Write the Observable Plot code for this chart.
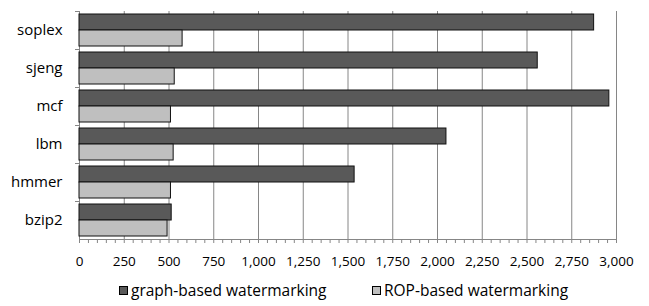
<!DOCTYPE html>
<html>
<head>
<meta charset="utf-8">
<script src="https://cdn.jsdelivr.net/npm/d3@7"></script>
<script src="https://cdn.jsdelivr.net/npm/@observablehq/plot@0.6"></script>
<style>
  html, body { margin: 0; padding: 0; background: #fff; }
  #chart { width: 649px; font-family: "Open Sans", sans-serif; }
  .legend { position: relative; height: 34px; width: 649px; font-family: "Open Sans", sans-serif; font-size: 15.5px; color: #000; }
  .legend .item { position: absolute; top: 8px; display: flex; align-items: center; white-space: nowrap; line-height: 20px; }
  .legend .sw { width: 7px; height: 7px; border: 1px solid #000; margin-right: 3px; }
</style>
</head>
<body>
<div id="chart"></div>
<script>
const categories = ["soplex", "sjeng", "mcf", "lbm", "hmmer", "bzip2"];
const seriesNames = ["graph-based watermarking", "ROP-based watermarking"];
const graphValues = [2875, 2560, 2960, 2050, 1537, 515];
const ropValues = [576, 532, 511, 526, 511, 492];
const xTicks = [0, 250, 500, 750, 1000, 1250, 1500, 1750, 2000, 2250, 2500, 2750, 3000];
const minorTicks = [0, 50, 100, 150, 200, 250, 300, 350, 400, 450, 500, 550, 600, 650, 700, 750, 800, 850, 900, 950,
  1000, 1050, 1100, 1150, 1200, 1250, 1300, 1350, 1400, 1450, 1500, 1550, 1600, 1650, 1700, 1750, 1800, 1850, 1900, 1950,
  2000, 2050, 2100, 2150, 2200, 2250, 2300, 2350, 2400, 2450, 2500, 2550, 2600, 2650, 2700, 2750, 2800, 2850, 2900, 2950, 3000];
const seriesColors = ["#595959", "#bfbfbf"];

const data = categories.flatMap((c, i) => [
  {cat: c, series: seriesNames[0], value: graphValues[i]},
  {cat: c, series: seriesNames[1], value: ropValues[i]}
]);

const W = 649, H = 272, ML = 79, MR = 33, MT = 9, MB = 32;
const axisColor = "#868686";

const chart = Plot.plot({
  width: W, height: H,
  marginLeft: ML, marginRight: MR, marginTop: MT, marginBottom: MB,
  style: {fontFamily: "Open Sans, sans-serif", color: "#000", background: "#fff"},
  x: {domain: [0, 3000]},
  fy: {domain: categories, padding: 0},
  y: {domain: seriesNames, paddingInner: 0, paddingOuter: 0.15, axis: null},
  color: {domain: seriesNames, range: seriesColors},
  marks: [
    Plot.gridX(xTicks, {stroke: axisColor, strokeOpacity: 1, strokeWidth: 1}),
    Plot.barX(data, {x: "value", y: "series", fy: "cat", fill: "series", stroke: "#111", strokeWidth: 1}),
    Plot.frame({anchor: "top", insetLeft: -4, insetRight: W - ML - MR, stroke: axisColor}),
    Plot.frame({anchor: "bottom", facetAnchor: "bottom", stroke: axisColor}),
    Plot.axisFy({anchor: "left", tickSize: 0, tickPadding: 17, fontSize: 15, label: null}),
    Plot.axisX(minorTicks, {tickSize: 4, tickFormat: () => "", stroke: axisColor, label: null}),
    Plot.axisX(xTicks, {tickSize: 0, tickPadding: 17, tickFormat: d3.format(","), fontSize: 13.5, label: null})
  ]
});
document.getElementById("chart").appendChild(chart);

const legend = document.createElement("div");
legend.className = "legend";
const lefts = [119, 372];
seriesNames.forEach((name, i) => {
  const item = document.createElement("div");
  item.className = "item";
  item.style.left = lefts[i] + "px";
  const sw = document.createElement("span");
  sw.className = "sw";
  sw.style.background = seriesColors[i];
  const t = document.createElement("span");
  t.textContent = name;
  item.appendChild(sw);
  item.appendChild(t);
  legend.appendChild(item);
});
document.getElementById("chart").appendChild(legend);
</script>
</body>
</html>
